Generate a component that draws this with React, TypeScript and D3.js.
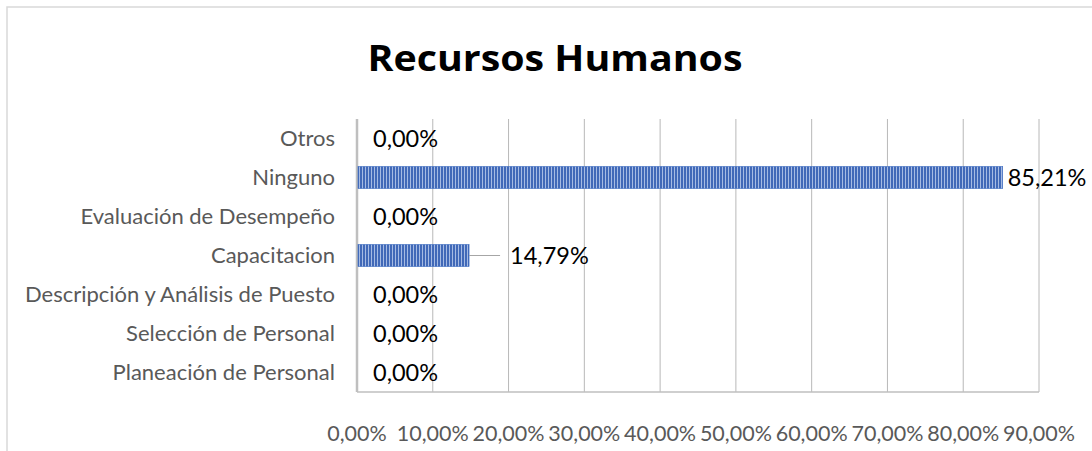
import React from "react";
import * as d3 from "d3";

const categories = [
  "Otros",
  "Ninguno",
  "Evaluación de Desempeño",
  "Capacitacion",
  "Descripción y Análisis de Puesto",
  "Selección de Personal",
  "Planeación de Personal",
];
const values = [0, 85.21, 0, 14.79, 0, 0, 0];
const ticks = [0, 10, 20, 30, 40, 50, 60, 70, 80, 90];
const title = "Recursos Humanos";

const W = 1092;
const H = 451;
const fmt = (v: number) => v.toFixed(2).replace(".", ",") + "%";

export default function App() {
  const x = d3.scaleLinear().domain([0, 90]).range([357, 1039]);
  const y = d3.scaleBand().domain(categories).range([119, 392]).paddingInner(0.43).paddingOuter(0.215);
  const font = "Lato, 'Noto Sans', sans-serif";
  return (
    <svg width={W} height={H} style={{ position: "absolute", left: 0, top: 0, background: "#fff" }}>
      <defs>
        <pattern id="stripes" patternUnits="userSpaceOnUse" width={3} height={10}>
          <rect x={0} y={0} width={3} height={10} fill="#a6bbe3" />
          <rect x={0} y={0} width={2} height={10} fill="#4169b8" />
        </pattern>
      </defs>
      <rect x={7} y={7} width={W + 20} height={H + 20} fill="#fff" stroke="#d9d9d9" strokeWidth={1.5} />
      <text x={555} y={71} textAnchor="middle" fontFamily="'Open Sans', Lato, sans-serif" fontWeight={700} fontSize={35} fill="#000" textLength={375} lengthAdjust="spacingAndGlyphs">
        {title}
      </text>
      {ticks.map((t) => (
        <line key={"g" + t} x1={x(t)} x2={x(t)} y1={119} y2={392} stroke={t === 0 ? "#bfbfbf" : "#b8b8b8"} strokeWidth={t === 0 ? 2.5 : 1} />
      ))}
      <line x1={x(0)} x2={x(90)} y1={392} y2={392} stroke="#bfbfbf" strokeWidth={1.5} />
      {ticks.map((t) => (
        <text key={"t" + t} x={x(t)} y={441} textAnchor="middle" fontFamily={font} fontSize={21.5} fill="#595959">
          {fmt(t)}
        </text>
      ))}
      {categories.map((c) => (
        <text key={"c" + c} x={335} y={(y(c) as number) + y.bandwidth() / 2} dy="0.36em" textAnchor="end" fontFamily={font} fontSize={22} fill="#595959">
          {c}
        </text>
      ))}
      {categories.map((c, i) =>
        values[i] > 0 ? (
          <rect key={"b" + c} x={x(0) + 1} y={y(c)} width={x(values[i]) - x(0) - 1} height={y.bandwidth()} fill="url(#stripes)" stroke="#4472c4" strokeWidth={0.6} />
        ) : null
      )}
      {categories.map((c, i) => {
        const cy = (y(c) as number) + y.bandwidth() / 2;
        const v = values[i];
        const leader = v > 0 && v < 20;
        const lx = v === 0 ? x(0) + 16 : leader ? x(v) + 41 : x(v) + 5;
        return (
          <g key={"l" + c}>
            {leader && <line x1={x(v)} x2={x(v) + 31} y1={cy} y2={cy} stroke="#a6a6a6" strokeWidth={1} />}
            <text x={lx} y={cy} dy="0.36em" fontFamily={font} fontSize={23.5} fill="#000">
              {fmt(v)}
            </text>
          </g>
        );
      })}
    </svg>
  );
}
